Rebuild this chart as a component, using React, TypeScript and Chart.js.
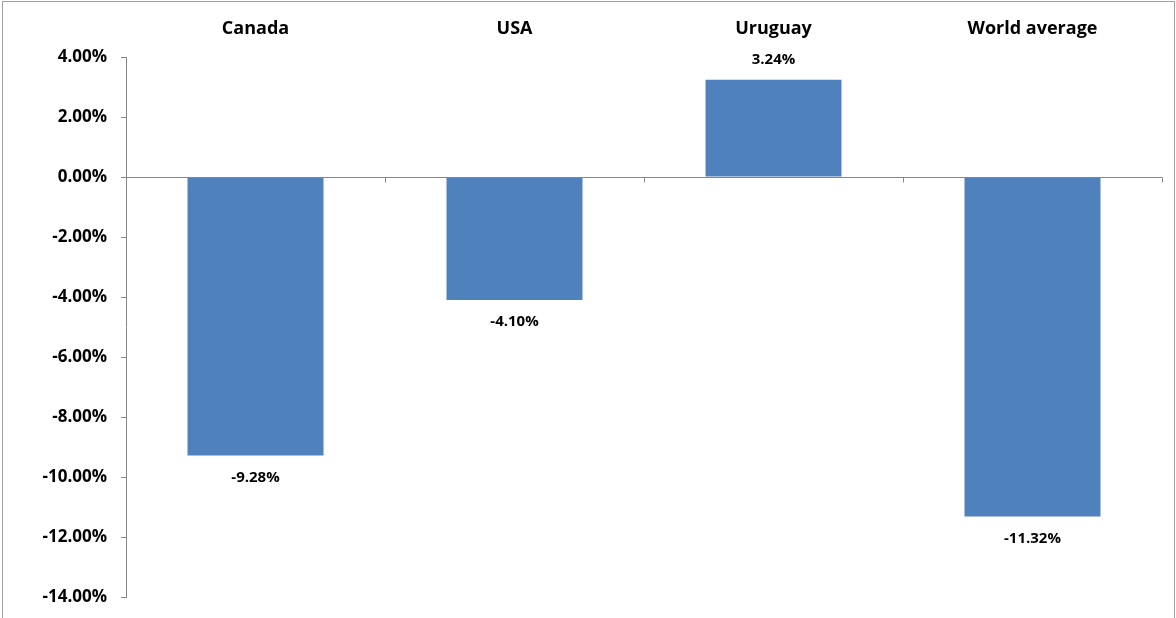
import React, { useEffect, useRef } from "react";
import { Chart, registerables } from "chart.js";

Chart.register(...registerables);

const categories = ["Canada", "USA", "Uruguay", "World average"];
const values = [-9.28, -4.1, 3.24, -11.32];
const yMin = -14;
const yMax = 4;
const yStep = 2;

const FONT = "'Open Sans', Lato, sans-serif";
const AXIS_COLOR = "#868686";
const BAR_COLOR = "#4F81BD";

const fmt = (v: number) => v.toFixed(2) + "%";

const decorPlugin = {
  id: "decor",
  afterDatasetsDraw(chart: any) {
    const { ctx, chartArea, scales } = chart;
    const x = scales.x;
    const y = scales.y;
    const y0 = Math.round(y.getPixelForValue(0)) + 0.5;
    ctx.save();
    ctx.strokeStyle = AXIS_COLOR;
    ctx.lineWidth = 1;
    ctx.beginPath();
    ctx.moveTo(chartArea.left, y0);
    ctx.lineTo(chartArea.right, y0);
    const n = categories.length;
    for (let i = 1; i <= n; i++) {
      let bx: number;
      if (i < n) bx = (x.getPixelForValue(i) + x.getPixelForValue(i - 1)) / 2;
      else bx = chartArea.right;
      bx = Math.round(bx) + 0.5;
      ctx.moveTo(bx, y0);
      ctx.lineTo(bx, y0 + 5);
    }
    ctx.stroke();

    // outer border
    ctx.strokeStyle = "#A0A0A0";
    ctx.strokeRect(2.5, 1.5, chart.width - 4, chart.height + 10);

    // data labels
    ctx.fillStyle = "#000";
    ctx.font = `bold 15px ${FONT}`;
    ctx.textAlign = "center";
    ctx.textBaseline = "middle";
    const meta = chart.getDatasetMeta(0);
    meta.data.forEach((bar: any, i: number) => {
      const v = values[i];
      const ly = v < 0 ? bar.y + 22 : bar.y - 20;
      ctx.fillText(fmt(v), bar.x, ly);
    });
    ctx.restore();
  },
};

export default function App() {
  const ref = useRef<HTMLCanvasElement | null>(null);
  useEffect(() => {
    if (!ref.current) return;
    const chart = new Chart(ref.current, {
      type: "bar",
      data: {
        labels: categories,
        datasets: [
          {
            data: values,
            backgroundColor: BAR_COLOR,
            borderWidth: 0,
            categoryPercentage: 1,
            barPercentage: 0.525,
          },
        ],
      },
      options: {
        responsive: false,
        animation: false,
        layout: { padding: { left: 0, top: 0, right: 14, bottom: 21 } },
        plugins: {
          legend: { display: false },
          tooltip: { enabled: false },
          title: { display: false },
        },
        scales: {
          x: {
            position: "top",
            grid: { display: false, drawTicks: false },
            border: { display: false },
            ticks: {
              color: "#000",
              font: { family: FONT, size: 18, weight: "bold" },
              padding: 17,
              maxRotation: 0,
              autoSkip: false,
            },
            afterFit: (s: any) => {
              s.height = 57;
            },
          },
          y: {
            min: yMin,
            max: yMax,
            grid: {
              drawOnChartArea: false,
              drawTicks: true,
              tickLength: 5,
              color: AXIS_COLOR,
            },
            border: { display: true, color: AXIS_COLOR },
            ticks: {
              stepSize: yStep,
              color: "#000",
              font: { family: FONT, size: 17, weight: "bold" },
              padding: 14,
              callback: (v: any) => fmt(Number(v)),
            },
            afterFit: (s: any) => {
              s.width = 126;
              s.paddingBottom = 0;
              s.paddingTop = 0;
            },
          },
        },
      },
      plugins: [decorPlugin],
    });
    return () => chart.destroy();
  }, []);
  return (
    <div style={{ position: "absolute", left: 0, top: 0, width: 1176, height: 618, background: "#fff" }}>
      <canvas ref={ref} width={1176} height={618} style={{ display: "block" }} />
    </div>
  );
}
